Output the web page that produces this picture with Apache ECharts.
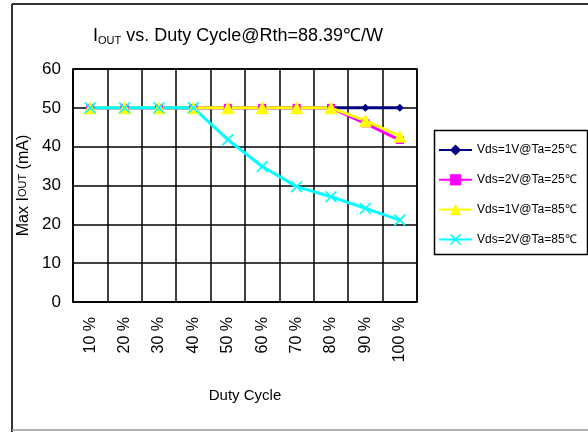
<!DOCTYPE html>
<html>
<head>
<meta charset="utf-8">
<script src="https://cdn.jsdelivr.net/npm/echarts@6/dist/echarts.min.js"></script>
<style>
html,body{margin:0;padding:0;background:#fff;}
#main{width:588px;height:432px;}
</style>
</head>
<body>
<div id="main"></div>
<script>
var duty = ['10 %','20 %','30 %','40 %','50 %','60 %','70 %','80 %','90 %','100 %'];
var v1t25 = [50,50,50,50,50,50,50,50,50,50];
var v2t25 = [50,50,50,50,50,50,50,50,46,41.7];
var v1t85 = [50,50,50,50,50,50,50,50,46.7,42.7];
var v2t85 = [50,50,50,50,41.8,34.9,29.7,27.1,24.1,21.1];
var names = ['Vds=1V@Ta=25℃','Vds=2V@Ta=25℃','Vds=1V@Ta=85℃','Vds=2V@Ta=85℃'];

var font = '"Liberation Sans",Arial,sans-serif';
var xMark = 'path://M0,1L1,0L5,4L9,0L10,1L6,5L10,9L9,10L5,6L1,10L0,9L4,5Z';

var myChart = echarts.init(document.getElementById('main'));
var option = {
    backgroundColor:'#fff',
    animation:false,
    title:{
        text:'{b|I}{s|OUT}{b| vs. Duty Cycle@Rth=88.39℃/W}',
        left:88, top:22,
        textStyle:{
            rich:{
                b:{fontFamily:font,fontSize:18,fontWeight:'normal',color:'#000'},
                s:{fontFamily:font,fontSize:11,fontWeight:'normal',color:'#000',verticalAlign:'bottom',padding:[8,0,0,0]}
            }
        }
    },
    grid:{
        left:73, right:171, top:69, bottom:130,
        show:true, borderColor:'#000', borderWidth:1.5
    },
    legend:{
        orient:'vertical',
        left:433, top:139,
        itemWidth:33, itemHeight:14, itemGap:17.8,
        textStyle:{fontFamily:font,fontSize:12,color:'#000'},
        data:names
    },
    xAxis:{
        type:'category',
        data:duty,
        boundaryGap:true,
        name:'Duty Cycle',
        nameLocation:'middle',
        nameGap:86,
        nameTextStyle:{fontFamily:font,fontSize:15,color:'#000'},
        axisLine:{lineStyle:{color:'#000',width:1.5}},
        axisTick:{show:false},
        axisLabel:{rotate:90,margin:15,fontFamily:font,fontSize:16,color:'#000'},
        splitLine:{show:true,lineStyle:{color:'#000',width:1.5}}
    },
    yAxis:{
        type:'value',
        min:0, max:60, interval:10,
        name:'{n|Max I}{s|OUT}{n| (mA)}',
        nameLocation:'middle',
        nameGap:38,
        nameTextStyle:{
            rich:{
                n:{fontFamily:font,fontSize:16,color:'#000'},
                s:{fontFamily:font,fontSize:11,color:'#000'}
            }
        },
        axisLine:{show:true,lineStyle:{color:'#000',width:1.5}},
        axisTick:{show:false},
        axisLabel:{margin:12,fontFamily:font,fontSize:17,color:'#000'},
        splitLine:{show:true,lineStyle:{color:'#000',width:1.5}}
    },
    series:[
        {
            name:names[0], type:'line', data:v1t25,
            symbol:'diamond', symbolSize:8,
            lineStyle:{color:'#000080',width:3},
            itemStyle:{color:'#000080'}
        },
        {
            name:names[1], type:'line', data:v2t25,
            symbol:'rect', symbolSize:8,
            lineStyle:{color:'#ff00ff',width:3},
            itemStyle:{color:'#ff00ff'}
        },
        {
            name:names[2], type:'line', data:v1t85,
            symbol:'triangle', symbolSize:13,
            lineStyle:{color:'#ffff00',width:3},
            itemStyle:{color:'#ffff00'}
        },
        {
            name:names[3], type:'line', data:v2t85,
            symbol:xMark, symbolSize:12,
            lineStyle:{color:'#00ffff',width:3},
            itemStyle:{color:'#00ffff'}
        }
    ],
    graphic:[
        {type:'rect',left:432,top:128,shape:{width:153,height:124},
         style:{fill:null,stroke:'#000',lineWidth:1.5},z:-1},
        {type:'line',shape:{x1:12,y1:4,x2:588,y2:4},style:{stroke:'#333',lineWidth:2}},
        {type:'line',shape:{x1:12,y1:4,x2:12,y2:432},style:{stroke:'#333',lineWidth:2}},
        {type:'line',shape:{x1:12,y1:430,x2:588,y2:430},style:{stroke:'#999',lineWidth:1.5}}
    ]
};
myChart.setOption(option);
</script>
</body>
</html>
